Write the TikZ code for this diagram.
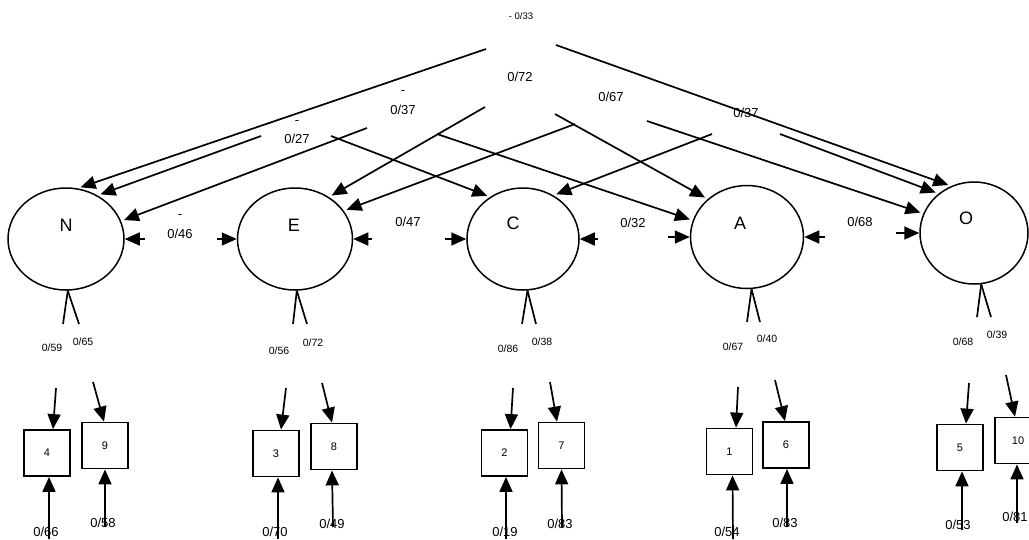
\documentclass[tikz,border=0pt]{standalone}
\usepackage{fontspec}
\setmainfont{Liberation Sans}
\usetikzlibrary{arrows.meta, calc, shapes.geometric}

\begin{document}
\begin{tikzpicture}[x=1pt, y=-1pt,
    arr/.style={-{Triangle[length=15pt, width=13pt]}, line width=1.7pt},
    latent/.style={draw, ellipse, line width=1.5pt, inner sep=0pt},
    item/.style={draw, rectangle, line width=1.8pt, minimum size=46pt, inner sep=0pt,
      font=\fontsize{11}{13}\selectfont},
    fac/.style={font=\fontsize{18}{20}\selectfont, inner sep=0pt},
    val/.style={font=\fontsize{13}{15}\selectfont, inner sep=0pt},
    ld/.style={font=\fontsize{10.5}{12}\selectfont, inner sep=0pt}]
  \useasboundingbox (0,0) rectangle (1029,539);

  \foreach \n/\x/\y/\w/\h in {N/66/239/116/102, E/295/239/115/102, C/523/239/112/102,
      A/747/237/113/103, O/974/233/108/102}
    \node[latent, minimum width=\w pt, minimum height=\h pt] (\n) at (\x,\y) {};
  \foreach \n/\x/\y in {N/66/225, E/294/225, C/513/223, A/740/223, O/966/218}
    \node[fac] (\n-t) at (\x,\y) {\n};

  \foreach \a/\c/\p/\q in {N/E/145/217, E/C/372/445, C/A/598/668, A/O/825/896} {
    \coordinate (\a\c-l) at (\p,0 |- \a.east);
    \coordinate (\a\c-r) at (\q,0 |- \c.west);
    \draw[arr] (\a\c-l) -- (\a.east);
    \draw[arr] (\a\c-r) -- (\c.west);
  }
  \node[val] (rNE-s) at (180,217) {-};
  \node[val] (rNE) at (180,234) {0/46};
  \node[val] (rEC) at (408,222) {0/47};
  \node[val] (rCA) at (633,223) {0/32};
  \node[val] (rAO) at (860,222) {0/68};

  \foreach \i/\x/\y/\dst in {1/486/49/N.77, 2/261/136/N.54, 3/367/128/N.18,
      4/485/107/E.51, 7/575/124/E.30, 5/331/136/C.128, 9/712/134/C.55,
      6/437/134/A.163, 8/555/114/A.136, 10/647/121/O.159, 11/556/45/O.116,
      12/780/134/O.132} {
    \coordinate (t\i) at (\x,\y);
    \draw[arr, shorten >=3pt] (t\i) -- (\dst);
  }
  \node[ld, font=\fontsize{9.5}{11}\selectfont] (g33) at (521,16) {- 0/33};
  \node[val] (g72) at (520,77) {0/72};
  \node[val] (g67) at (611,97) {0/67};
  \node[val] (g37r) at (746,113) {0/37};
  \node[val] (g37-s) at (403,93) {-};
  \node[val] (g37) at (403,110) {0/37};
  \node[val] (g27-s) at (297,123) {-};
  \node[val] (g27) at (297,139) {0/27};

  \foreach \n/\ang/\l/\r/\y in {N/-88/63/79/324, E/-88/293/307/324, C/-85/522/536/324,
      A/-85/747/760/322, O/-82/977/991/317} {
    \coordinate (\n-a) at (\l,\y);
    \coordinate (\n-b) at (\r,\y);
    \draw[line width=1.7pt] (\n-a) -- (\n.\ang);
    \draw[line width=1.7pt] (\n-b) -- (\n.\ang);
  }
  \foreach \x/\y/\v [count=\i] in {52/348/59, 83/342/65, 279/351/56, 313/343/72,
      508/349/86, 542/342/38, 733/347/67, 767/339/40, 963/342/68, 997/335/39}
    \node[ld] (ld\i) at (\x,\y) {0/\v};

  \foreach \bx/\x/\y in {4/47/453, 9/105/445.5, 3/276/453.5, 8/334/446.5, 2/504.5/453,
      7/561.5/445.5, 1/729.5/451.5, 6/786/445, 5/960/447.5, 10/1018/440.5}
    \node[item] (b\bx) at (\x,\y) {\bx};

  \foreach \bx/\ux/\uy/\us/\vx/\vy/\vs in {4/56/388/6/49/539/2, 9/93/382/-1/105/527/0,
      3/286/388/5/278/539/2, 8/322/383/-2/333/527/-2, 2/513/388/6/506/539/1.5,
      7/550/382/-4.5/562/527/0, 1/738/387/6.5/733/539/3, 6/775/380/-1/787/527/1,
      5/969/383/6/962/530/2, 10/1006/375/-3/1017/523/-1} {
    \coordinate (u\bx) at (\ux,\uy);
    \coordinate (d\bx) at (\vx,\vy);
    \draw[arr] (u\bx) -- ([xshift=\us]b\bx.north);
    \draw[arr] (d\bx) -- ([xshift=\vs]b\bx.south);
  }
  \foreach \x/\y/\v [count=\i] in {46/532/66, 103/523/58, 275/532/70, 332/524/49,
      505/532/19, 560/524/83, 727/532/54, 785/523/83, 958/525/53, 1015/517/81}
    \node[val] (e\i) at (\x,\y) {0/\v};
\end{tikzpicture}
\end{document}
